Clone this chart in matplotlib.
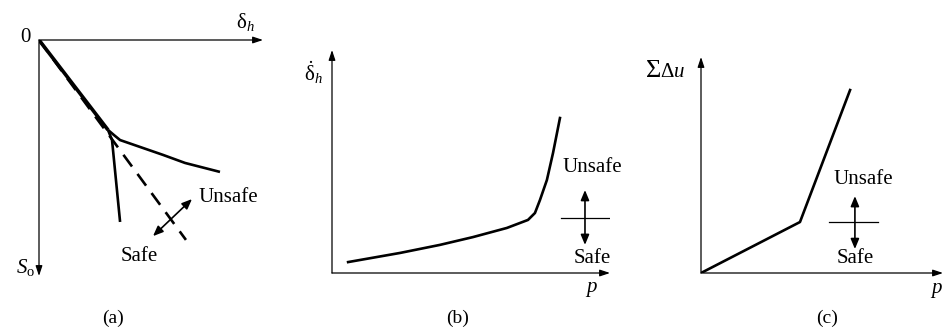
import matplotlib.pyplot as plt

plt.rcParams['font.family'] = ['Liberation Serif', 'DejaVu Serif']
plt.rcParams['mathtext.fontset'] = 'custom'
plt.rcParams['mathtext.rm'] = 'Liberation Serif'
plt.rcParams['mathtext.it'] = 'Liberation Serif:italic'

# panel (a): settlement S_o (down) against horizontal displacement
a_main_x = [0, 3.08]
a_main_y = [0, 3.81]
a_upper_x = [3.08, 3.35, 3.62, 5.54, 6.52, 8.08]
a_upper_y = [3.81, 4.03, 4.24, 4.87, 5.21, 5.59]
a_lower_x = [3.08, 3.26, 3.62]
a_lower_y = [3.81, 4.24, 7.71]
a_dash_x = [0, 6.56]
a_dash_y = [0, 8.47]

# panel (b): rate of horizontal displacement against load
b_x = [0.58, 2.45, 3.88, 5.07, 6.29, 7.05, 7.30, 7.48, 7.73, 7.95, 8.20]
b_y = [0.49, 0.90, 1.26, 1.61, 2.02, 2.38, 2.69, 3.27, 4.17, 5.38, 6.95]

# panel (c): cumulative pore pressure against load
c_x = [0, 4.09, 6.16]
c_y = [0, 2.36, 8.47]

W, H = 943, 335
fig = plt.figure(figsize=(W / 100, H / 100), dpi=100)

def make_ax(x0, y0, x1, y1):
    # pixel box -> figure fraction
    ax = fig.add_axes([x0 / W, 1 - y1 / H, (x1 - x0) / W, (y1 - y0) / H])
    ax.set_xlim(0, 10)
    ax.set_ylim(0, 10)
    ax.axis('off')
    return ax

def axis_arrow(ax, start, end):
    ax.annotate('', xy=end, xytext=start, xycoords='axes fraction',
                arrowprops=dict(arrowstyle='-|>,head_length=0.6,head_width=0.2',
                                lw=0.9, color='black', shrinkA=0, shrinkB=0),
                annotation_clip=False)

def double_arrow(ax, p0, p1):
    ax.annotate('', xy=p1, xytext=p0,
                arrowprops=dict(arrowstyle='<|-|>,head_length=0.6,head_width=0.25',
                                lw=1.2, color='black', shrinkA=0, shrinkB=0),
                annotation_clip=False)

fs = 15
lw = 1.9

# ---- (a)
ax = make_ax(39, 40, 263, 276)
ax.set_ylim(10, 0)
axis_arrow(ax, (0, 1), (1, 1))
axis_arrow(ax, (0, 1), (0, 0))
ax.plot(a_main_x, a_main_y, color='black', lw=2.6, solid_capstyle='butt')
ax.plot(a_upper_x, a_upper_y, color='black', lw=lw, solid_capstyle='butt')
ax.plot(a_lower_x, a_lower_y, color='black', lw=lw, solid_capstyle='butt')
ax.plot(a_dash_x, a_dash_y, color='black', lw=lw, dashes=(5.5, 3.5))
double_arrow(ax, (5.09, 8.31), (6.83, 6.74))
ax.text(8.44, 6.69, 'Unsafe', fontsize=fs, ha='center', va='center')
ax.text(4.46, 9.19, 'Safe', fontsize=fs, ha='center', va='center')
ax.text(-0.62, -0.1, '0', fontsize=fs, ha='center', va='center')
ax.text(9.2, -0.75, r'$\mathrm{\delta}_h$', fontsize=fs, ha='center', va='center')
ax.text(-0.6, 9.65, r'$S_\mathrm{o}$', fontsize=fs, ha='center', va='center')
ax.text(3.3, 11.78, '(a)', fontsize=14, ha='center', va='center')

# ---- (b)
ax = make_ax(332, 50, 610, 273)
axis_arrow(ax, (0, 0), (1, 0))
axis_arrow(ax, (0, 0), (0, 1))
ax.plot(b_x, b_y, color='black', lw=lw, solid_joinstyle='round')
ax.plot([8.24, 10.0], [2.47, 2.47], color='black', lw=0.9)
double_arrow(ax, (9.10, 1.26), (9.10, 3.72))
ax.text(9.35, 4.75, 'Unsafe', fontsize=fs, ha='center', va='center')
ax.text(9.35, 0.63, 'Safe', fontsize=fs, ha='center', va='center')
ax.text(-0.68, 9.0, r'$\dot{\mathrm{\delta}}_h$', fontsize=fs, ha='center', va='center')
ax.text(9.32, -0.76, r'$p$', fontsize=fs, ha='center', va='center')
ax.text(4.5, -2.03, '(b)', fontsize=14, ha='center', va='center')

# ---- (c)
ax = make_ax(701, 57, 943, 273)
axis_arrow(ax, (0, 0), (1, 0))
axis_arrow(ax, (0, 0), (0, 1))
ax.plot(c_x, c_y, color='black', lw=lw)
ax.plot([5.29, 7.31], [2.36, 2.36], color='black', lw=0.9)
double_arrow(ax, (6.36, 1.11), (6.36, 3.56))
ax.text(6.69, 4.35, 'Unsafe', fontsize=fs, ha='center', va='center')
ax.text(6.36, 0.65, 'Safe', fontsize=fs, ha='center', va='center')
ax.text(-1.94, 9.07, 'Σ', fontsize=19, ha='center', va='baseline')
ax.text(-1.68, 9.07, r'$\mathrm{\Delta} u$', fontsize=fs, ha='left', va='baseline')
ax.text(9.75, -0.79, r'$p$', fontsize=fs, ha='center', va='center')
ax.text(5.21, -2.09, '(c)', fontsize=14, ha='center', va='center')

fig.savefig('out.png', dpi=100)
